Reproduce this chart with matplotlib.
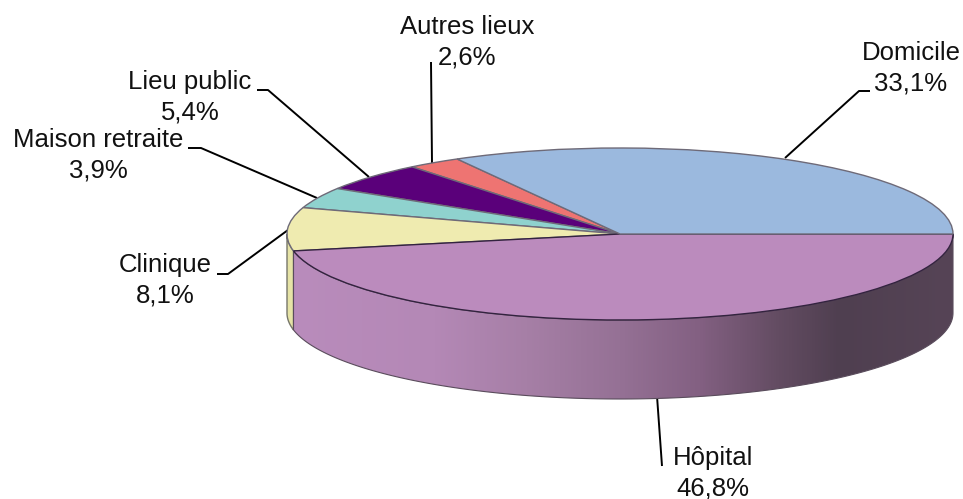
import numpy as np
import matplotlib
matplotlib.use("Agg")
import matplotlib.pyplot as plt
from matplotlib.colors import LinearSegmentedColormap
from matplotlib.patches import Polygon

plt.rcParams['font.family'] = ['Liberation Sans', 'DejaVu Sans']

categories = ["Domicile", "Autres lieux", "Lieu public", "Maison retraite", "Clinique", "Hôpital"]
shares = [33.1, 2.6, 5.4, 3.9, 8.1, 46.8]
share_labels = ["33,1%", "2,6%", "5,4%", "3,9%", "8,1%", "46,8%"]
slice_colors = ["#9BB9DE", "#EE7472", "#5A007A", "#8FD2CE", "#EFEBB0", "#BB8BBD"]

W, H = 963, 499
fig = plt.figure(figsize=(W / 100, H / 100), dpi=100)
ax = fig.add_axes([0, 0, 1, 1])
ax.set_axis_off()

CX, CY, RX, RY, DEPTH = 620, 234, 333, 86, 79

# cumulative slice angles, from the data
edges = np.concatenate([[0], np.cumsum(shares)]) / np.sum(shares) * 360


def wall(a0, a1):
    t = np.radians(np.linspace(a0, a1, 160))
    x = CX + RX * np.cos(t)
    y = CY - RY * np.sin(t)
    return np.vstack([np.c_[x, y], np.c_[x[::-1], y[::-1] + DEPTH]])


# Clinique wall (visible part)
ax.add_patch(Polygon(wall(180, edges[5]), closed=True, facecolor="#E6E3A6",
                     edgecolor="#77776A", lw=1, zorder=2))

# Hôpital wall with horizontal gradient
cmap = LinearSegmentedColormap.from_list("w", [
    (0.00, "#B98CBC"), (0.22, "#B488B6"), (0.36, "#A67FA6"), (0.50, "#957195"),
    (0.62, "#836082"), (0.74, "#634C62"), (0.83, "#4F3F50"), (1.00, "#564456")])
grad = np.linspace(0, 1, 512)[None, :]
im = ax.imshow(grad, cmap=cmap, extent=(287, 953, 400, 230), aspect="auto", zorder=2)
hw = Polygon(wall(edges[5], 360), closed=True, facecolor="none",
             edgecolor="#5A4C5C", lw=0.8, zorder=3)
ax.add_patch(hw)
im.set_clip_path(hw)

ax.set_xlim(0, W)
ax.set_ylim(H, 0)

# top face: pie in an axes stretched to the ellipse box
pax = fig.add_axes([(CX - RX) / W, 1 - (CY + RY) / H, 2 * RX / W, 2 * RY / H], zorder=5)
wedges, _ = pax.pie(shares, colors=slice_colors, startangle=0, counterclock=True, radius=1,
                    wedgeprops=dict(edgecolor="#6E6A78", linewidth=1.0, clip_on=False))
wedges[-1].set_edgecolor("#33233F")
wedges[0].set_zorder(wedges[-1].get_zorder() + 1)
pax.set_aspect("auto")
pax.set_xlim(-1, 1)
pax.set_ylim(-1, 1)
pax.patch.set_alpha(0)
pax.set_axis_off()

# leader lines
leaders = [
    [(870, 91), (859, 91), (785, 158)],
    [(431, 62), (432, 163)],
    [(257, 90), (268, 90), (369, 177)],
    [(188, 148), (201, 148), (317, 198)],
    [(217, 274), (228, 274), (288, 230)],
    [(657, 396), (662, 466)],
]
for pts in leaders:
    p = np.array(pts)
    ax.plot(p[:, 0], p[:, 1], color="black", lw=1.4, zorder=1, solid_capstyle="butt")

# labels
label_xy = [(911, 68), (467, 42.5), (190, 97), (98, 155), (165, 280), (713, 473)]
for name, pct, (x, y) in zip(categories, share_labels, label_xy):
    ax.text(x, y, f"{name}\n{pct}", ha="center", va="center", fontsize=18.5,
            linespacing=1.33, color="#111111", zorder=6)

fig.savefig("out.png", dpi=100)
